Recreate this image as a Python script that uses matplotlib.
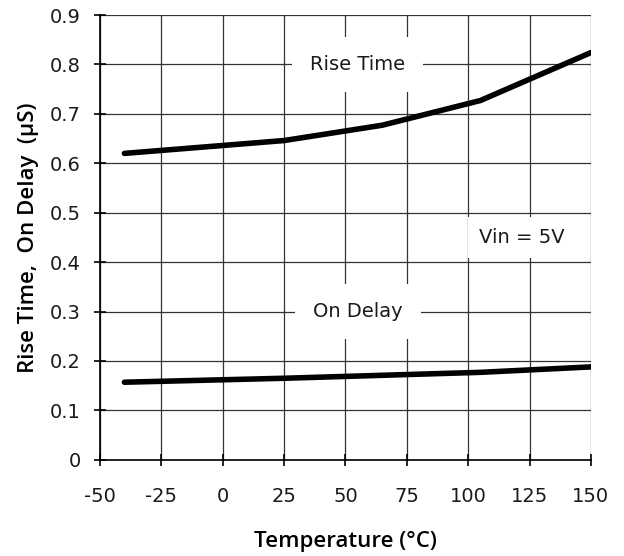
import matplotlib.pyplot as plt

temp = [-40, 25, 65, 105, 150]
rise_time = [0.620, 0.646, 0.677, 0.727, 0.824]
on_delay = [0.157, 0.165, 0.171, 0.177, 0.188]

xticks = [-50, -25, 0, 25, 50, 75, 100, 125, 150]
yticks = [0, 0.1, 0.2, 0.3, 0.4, 0.5, 0.6, 0.7, 0.8, 0.9]

plt.rcParams['font.family'] = ['DejaVu Sans']

fig = plt.figure(figsize=(6.24, 5.56), dpi=100)
ax = fig.add_axes([0.160, 0.173, 0.787, 0.800])

ax.plot(temp, rise_time, color='black', lw=4, solid_capstyle='round', zorder=3)
ax.plot(temp, on_delay, color='black', lw=4, solid_capstyle='round', zorder=3)

ax.set_xlim(-50, 150)
ax.set_ylim(0, 0.9)
ax.set_xticks(xticks)
ax.set_yticks(yticks)
ax.set_xticklabels([str(t) for t in xticks])
ax.set_yticklabels(['0'] + ['%.1f' % v for v in yticks[1:]])
ax.grid(True, color='#333333', lw=0.9)
ax.set_axisbelow(True)

for s in ['top', 'right']:
    ax.spines[s].set_visible(False)
for s in ['left', 'bottom']:
    ax.spines[s].set_linewidth(1.2)

ax.tick_params(direction='inout', length=9, width=1.2, labelsize=14, labelcolor='#1a1a1a')
ax.tick_params(axis='x', pad=15)
ax.tick_params(axis='y', pad=9)

lab_font = dict(family=['Open Sans', 'DejaVu Sans'], fontsize=16, fontweight='semibold')
ax.set_xlabel('Temperature (°C)', labelpad=18, **lab_font)
ax.set_ylabel('Rise Time,  On Delay  (µS)', labelpad=8, **lab_font)

box = dict(facecolor='white', edgecolor='none', pad=13)
ax.text(55, 0.8, 'Rise Time', fontsize=14, color='#1a1a1a', ha='center', va='center',
        bbox=box, zorder=2)
ax.text(55, 0.3, 'On Delay', fontsize=14, color='#1a1a1a', ha='center', va='center',
        bbox=box, zorder=2)
ax.text(122, 0.449, 'Vin = 5V', fontsize=14, color='#1a1a1a', ha='center', va='center',
        bbox=dict(facecolor='white', edgecolor='none', pad=8), zorder=2)

fig.savefig('out.png', dpi=100)
